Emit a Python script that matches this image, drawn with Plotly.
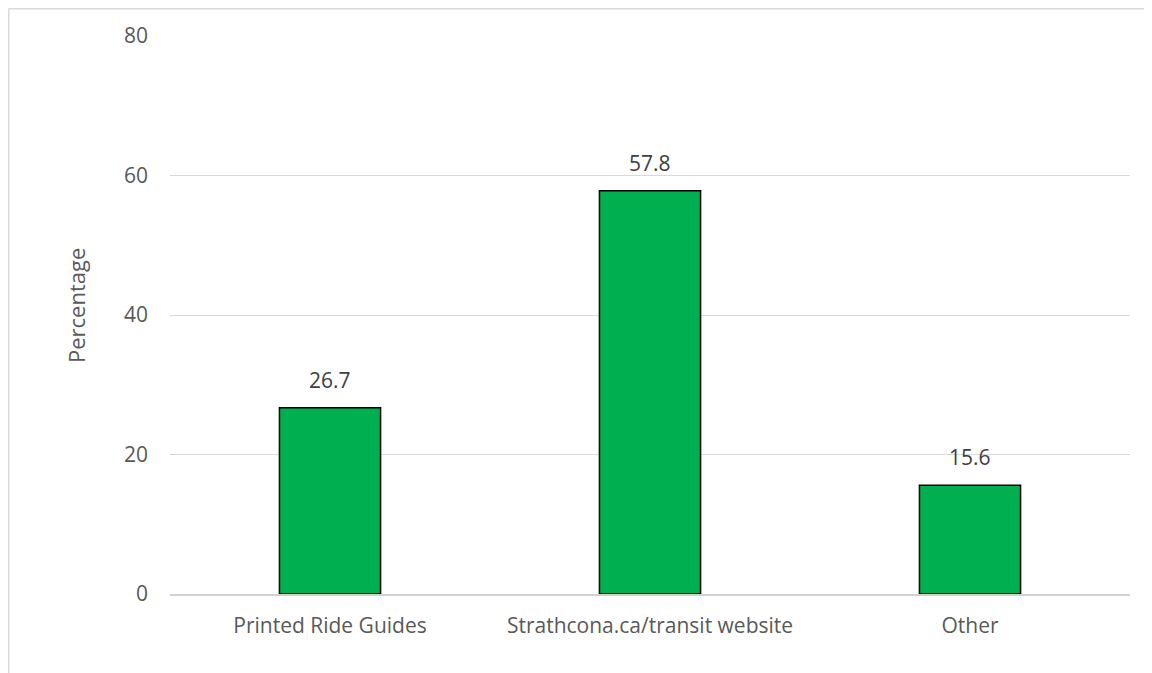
import plotly.graph_objects as go

categories = ["Printed Ride Guides", "Strathcona.ca/transit website", "Other"]
values = [26.7, 57.8, 15.6]
y_ticks = [0, 20, 40, 60, 80]

W, H = 1144, 665          # page body has an 8px margin
ml, mr, mt, mb = 162, 22, 28, 79
pw, ph = W - ml - mr, H - mt - mb
FONT = "Open Sans"

fig = go.Figure(go.Bar(
    x=categories, y=values,
    marker=dict(color="#00B050", line=dict(color="#000000", width=1.5)),
    width=0.316,
))

for c, v in zip(categories, values):
    fig.add_annotation(x=c, y=v, xref="x", yref="y", text=f"{v:.1f}",
                       showarrow=False, yanchor="bottom", yshift=12,
                       font=dict(size=21, color="#404040", family=FONT))

fig.add_annotation(xref="paper", yref="paper", x=(68 - ml) / pw, y=1 - (298 - mt) / ph,
                   text="Percentage", textangle=-90, showarrow=False,
                   xanchor="center", yanchor="middle",
                   font=dict(size=22, color="#595959", family=FONT))

fig.update_layout(
    width=W, height=H,
    margin=dict(l=ml, r=mr, t=mt, b=mb),
    paper_bgcolor="white", plot_bgcolor="white",
    font=dict(family=FONT, size=21, color="#595959"),
    showlegend=False,
    xaxis=dict(showline=True, linecolor="#D0D0D0", linewidth=1.5, ticks="",
               tickfont=dict(size=21, color="#595959"), ticklabelstandoff=12),
    yaxis=dict(range=[0, 80], tickvals=y_ticks, showgrid=True, gridcolor="#D9D9D9",
               gridwidth=1.3, zeroline=False, ticks="", ticklabelstandoff=21,
               tickfont=dict(size=21, color="#595959")),
    shapes=[
        dict(type="line", xref="paper", yref="paper",
             x0=(0.75 - ml) / pw, x1=(0.75 - ml) / pw, y0=1 + (mt - 0.75) / ph, y1=-(mb + 10) / ph,
             line=dict(color="#D9D9D9", width=1.5)),
        dict(type="line", xref="paper", yref="paper",
             x0=(0.75 - ml) / pw, x1=1 + (mr + 10) / pw, y0=1 + (mt - 0.75) / ph, y1=1 + (mt - 0.75) / ph,
             line=dict(color="#D9D9D9", width=1.5)),
    ],
)

fig.write_html("out.html")
